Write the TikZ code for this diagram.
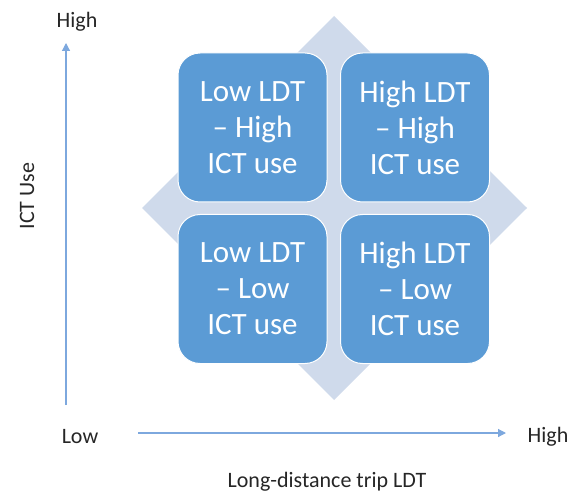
\documentclass[tikz,border=0pt]{standalone}
\usepackage{fontspec}
\usepackage{tikz}
\usepackage{xcolor}
\usetikzlibrary{arrows.meta,shapes,positioning}
\setmainfont{Carlito}
\definecolor{quadblue}{RGB}{91,155,213}
\definecolor{diamondblue}{RGB}{207,218,235}
\definecolor{axisblue}{RGB}{125,168,222}

\begin{document}
\begin{tikzpicture}[x=1pt,y=-1pt,
    quad/.style={draw=white,line width=1pt,fill=quadblue,rounded corners=22pt,
        minimum width=149pt,minimum height=149pt,text=white,align=center,
        font=\fontsize{31}{36}\selectfont},
    axislabel/.style={font=\fontsize{22}{26}\selectfont,text=black!85},
    axis/.style={draw=axisblue,line width=1.2pt,-{Triangle[length=8pt,width=8pt]}}]
    \useasboundingbox (0,0) rectangle (570,497);

    % Background diamond
    \fill[diamondblue] (142,208) -- (334,16) -- (527,208) -- (334,400) -- cycle;

    % Four quadrants
    \node[quad] (lowhigh) at (252.5,127.5) {Low LDT\\– High\\ICT use};
    \node[quad] (highhigh) at (415,127.5) {High LDT\\– High\\ICT use};
    \node[quad] (lowlow) at (252.5,289) {Low LDT\\– Low\\ICT use};
    \node[quad] (highlow) at (415,289) {High LDT\\– Low\\ICT use};

    % Vertical axis (ICT use)
    \coordinate (yfrom) at (66,405);
    \coordinate (yto) at (66,43);
    \draw[axis] (yfrom) -- (yto);
    \node[axislabel] (ymax) at (77,22) {High};
    \node[axislabel,rotate=90] (ytitle) at (27,196) {ICT Use};

    % Horizontal axis (LDT)
    \coordinate (xfrom) at (138,433);
    \coordinate (xto) at (506,433);
    \draw[axis] (xfrom) -- (xto);
    \node[axislabel] (xmin) at (80,437) {Low};
    \node[axislabel] (xmax) at (548,437) {High};
    \node[axislabel] (xtitle) at (327,482) {Long-distance trip LDT};
\end{tikzpicture}
\end{document}
